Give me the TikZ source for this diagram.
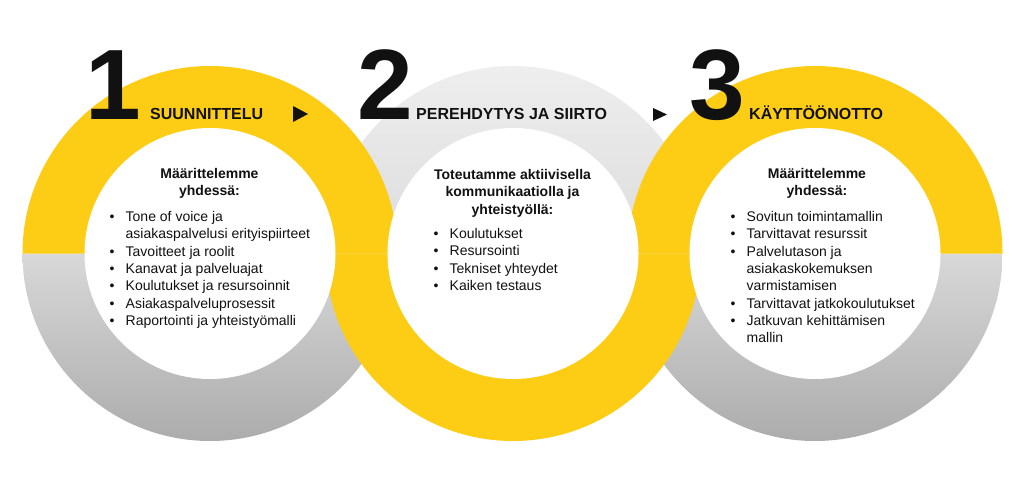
\documentclass[tikz,border=0pt]{standalone}
\usepackage{fontspec}
\setmainfont{Liberation Sans}
\definecolor{ylw}{RGB}{253,204,20}
\definecolor{grayA}{RGB}{216,216,216}
\definecolor{grayB}{RGB}{172,172,172}
\definecolor{grayC}{RGB}{238,238,238}
\definecolor{grayD}{RGB}{220,220,220}
\definecolor{ink}{RGB}{17,17,17}
\newcommand\bul{\makebox[16pt][l]{•}}
\begin{document}
\begin{tikzpicture}[x=1pt,y=-1pt,
  numstyle/.style={font=\fontsize{100}{100}\selectfont\bfseries, anchor=base, inner sep=0, text=ink},
  headstyle/.style={font=\fontsize{16}{19}\selectfont\bfseries, anchor=base west, inner sep=0, text=ink},
  introstyle/.style={font=\fontsize{14}{17.5}\selectfont\bfseries, anchor=base, inner sep=0, text=ink},
  liststyle/.style={font=\fontsize{14}{17.3}\selectfont, anchor=base west, inner sep=0, text=ink},
  arrowtip/.style={fill=ink},
]
\useasboundingbox (0,0) rectangle (1024,476);
\fill[white] (0,0) rectangle (1024,476);
\coordinate (c1) at (210,253.5);
\coordinate (c2) at (513,253.5);
\coordinate (c3) at (815,253.5);
% gray halves
\shade[top color=grayA, bottom color=grayB] (c1) ++(-187.5pt,0) arc[start angle=180,end angle=360,radius=187.5pt] -- cycle;
\shade[top color=grayA, bottom color=grayB] (c3) ++(-187.5pt,0) arc[start angle=180,end angle=360,radius=187.5pt] -- cycle;
\shade[top color=grayC, bottom color=grayD] (c2) ++(-187.5pt,0) arc[start angle=180,end angle=0,radius=187.5pt] -- cycle;
% yellow halves
\fill[ylw] (c1) ++(-187.5pt,0) arc[start angle=180,end angle=0,radius=187.5pt] -- cycle;
\fill[ylw] (c3) ++(-187.5pt,0) arc[start angle=180,end angle=0,radius=187.5pt] -- cycle;
\fill[ylw] (c2) ++(-187.5pt,0) arc[start angle=180,end angle=360,radius=187.5pt] -- cycle;
% inner white discs
\fill[white] (c1) circle[radius=125.5pt];
\fill[white] (c2) circle[radius=125.5pt];
\fill[white] (c3) circle[radius=125.5pt];
% numbers
\node[numstyle] (n1) at (113,119) {1};
\node[numstyle] (n2) at (385,119) {2};
\node[numstyle] (n3) at (717,119) {3};
% headings
\node[headstyle] (h1) at (150,119) {SUUNNITTELU};
\node[headstyle] (h2) at (416,119) {PEREHDYTYS JA SIIRTO};
\node[headstyle] (h3) at (749,119) {KÄYTTÖÖNOTTO};
% arrows
\fill[arrowtip] (293,106) -- (308,114) -- (293,122) -- cycle;
\fill[arrowtip] (653,108) -- (667,114.5) -- (653,121) -- cycle;
% intro texts
\node[introstyle] (i1) at (209.5,178) {\begin{tabular}[t]{@{}c@{}}Määrittelemme\\yhdessä:\end{tabular}};
\node[introstyle] (i2) at (512.5,179) {\begin{tabular}[t]{@{}c@{}}Toteutamme aktiivisella\\kommunikaatiolla ja\\yhteistyöllä:\end{tabular}};
\node[introstyle] (i3) at (817,178) {\begin{tabular}[t]{@{}c@{}}Määrittelemme\\yhdessä:\end{tabular}};
% lists
\node[liststyle] (l1) at (109.5,221.5) {\begin{tabular}[t]{@{}l@{}l@{}}
\bul & Tone of voice ja\\
 & asiakaspalvelusi erityispiirteet\\
\bul & Tavoitteet ja roolit\\
\bul & Kanavat ja palveluajat\\
\bul & Koulutukset ja resursoinnit\\
\bul & Asiakaspalveluprosessit\\
\bul & Raportointi ja yhteistyömalli
\end{tabular}};
\node[liststyle] (l2) at (433.5,238.5) {\begin{tabular}[t]{@{}l@{}l@{}}
\bul & Koulutukset\\
\bul & Resursointi\\
\bul & Tekniset yhteydet\\
\bul & Kaiken testaus
\end{tabular}};
\node[liststyle] (l3) at (730.5,221.5) {\begin{tabular}[t]{@{}l@{}l@{}}
\bul & Sovitun toimintamallin\\
\bul & Tarvittavat resurssit\\
\bul & Palvelutason ja\\
 & asiakaskokemuksen\\
 & varmistamisen\\
\bul & Tarvittavat jatkokoulutukset\\
\bul & Jatkuvan kehittämisen\\
 & mallin
\end{tabular}};
\end{tikzpicture}
\end{document}
